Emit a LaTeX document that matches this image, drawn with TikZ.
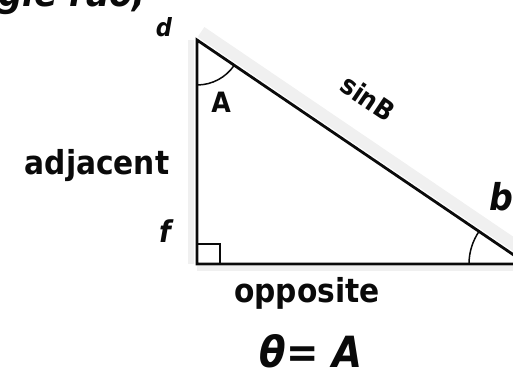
\documentclass[tikz,border=0pt]{standalone}
\usepackage{fontspec}
\usepackage{xcolor}
\newfontfamily\hand{DejaVu Sans Condensed}
\definecolor{ink}{HTML}{0A0A0A}
\definecolor{haze}{HTML}{F0F0F0}

\begin{document}
\begin{tikzpicture}[
  x=1pt, y=1pt,
  lbl/.style={font={\hand\bfseries\fontsize{#1}{#1}\selectfont}, text=ink, inner sep=0pt, anchor=base},
  slbl/.style={font={\hand\bfseries\itshape\fontsize{#1}{#1}\selectfont}, text=ink, inner sep=0pt, anchor=base},
  side/.style={draw=ink, line width=2.8pt},
  angarc/.style={draw=ink, line width=1.5pt},
  haze/.style={draw=haze, line width=#1}
]
\useasboundingbox (0,0) rectangle (513,374);
\clip (0,0) rectangle (513,374);
\coordinate (d) at (197,334);
\coordinate (f) at (197,110);
\coordinate (b) at (527,110);

% soft shadow along the sides
\draw[haze=12pt, transform canvas={yshift=8pt, xshift=4pt}] (d) -- (b);
\draw[haze=6pt, transform canvas={xshift=-6pt}] (d) -- (f);
\draw[haze=5pt, transform canvas={yshift=-5pt}] (f) -- (b);

% triangle
\draw[side, line join=miter] (f) -- (d) -- (b) -- cycle;
\draw[draw=ink, line width=1.8pt] (f) rectangle ++(23,20);
\draw[angarc] (d) ++(-90:45) arc[start angle=-90, end angle=-34.2, radius=45];
\draw[angarc] (b) ++(180:58) arc[start angle=180, end angle=145.8, radius=58];

% labels
\node[slbl=38, anchor=base west] (title) at (-2,367) {gle rao,};
\node[slbl=25] (dl) at (164,337) {d};
\node[lbl=28] (al) at (221,261) {A};
\node[lbl=27, rotate=-34, anchor=center] (sinl) at (368,276) {sinB};
\node[slbl=37] (bl) at (501,163) {b};
\node[lbl=33] (adj) at (97,199) {adjacent};
\node[slbl=30] (fl) at (165,131) {f};
\node[lbl=33] (opp) at (307,71) {opposite};
\node[slbl=43] (theta) at (311,6) {θ= A};
\end{tikzpicture}
\end{document}
